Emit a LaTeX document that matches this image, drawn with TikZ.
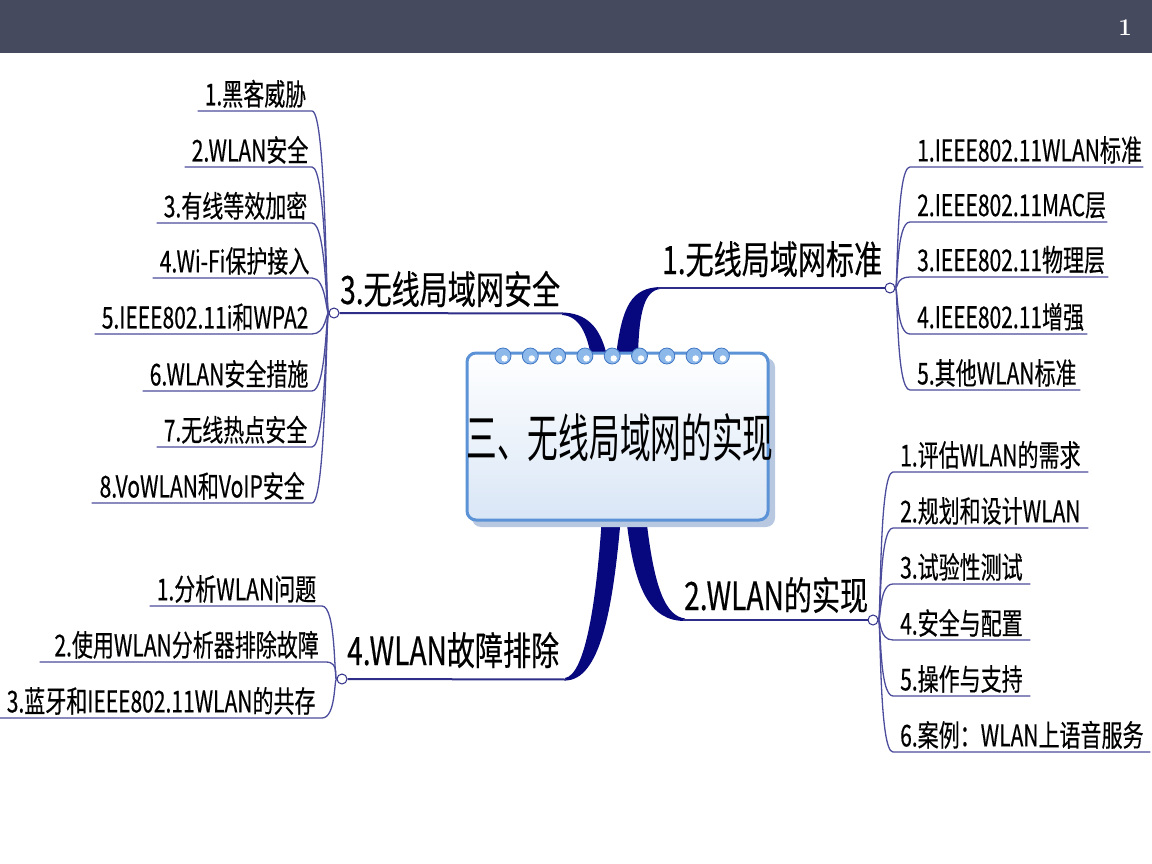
\documentclass[tikz,border=0pt]{standalone}
\usepackage{fontspec}
\newfontfamily\cjk[FakeStretch=0.70,FakeBold=0.4]{Noto Sans CJK SC}
\newfontfamily\cjktopic[FakeStretch=0.72,FakeBold=0.4]{Noto Sans CJK SC}
\newfontfamily\cjktitle[FakeStretch=0.59]{Noto Sans CJK SC}
\usetikzlibrary{positioning}
\definecolor{barcol}{HTML}{454A5E}
\definecolor{navy}{HTML}{08087E}
\definecolor{branchcol}{HTML}{2E2E88}
\definecolor{subcol}{HTML}{4C4C9C}
\definecolor{boxedge}{HTML}{5C92D6}
\definecolor{boxfill}{HTML}{D9E6F6}
\definecolor{shadowcol}{HTML}{B7C8E0}
\definecolor{ringcol}{HTML}{8CB8EA}
\definecolor{ringdark}{HTML}{3F76C4}
\exhyphenpenalty=10000
\hyphenpenalty=10000
\begin{document}
\begin{tikzpicture}[x=1pt,y=-1pt,
  topic/.style={font=\cjktopic\fontsize{39}{42}\selectfont, inner sep=0pt, anchor=base west},
  subR/.style={font=\cjk\fontsize{30}{32}\selectfont, anchor=south west, inner xsep=7pt, inner ysep=3pt, text width=#1, align=left},
  subL/.style={font=\cjk\fontsize{30}{32}\selectfont, anchor=south east, inner xsep=7pt, inner ysep=3pt, text width=#1, align=right},
  hub/.style={circle, draw=branchcol, fill=white, line width=1pt, minimum size=10pt, inner sep=0pt},
  topicline/.style={branchcol, line width=2pt},
  subline/.style={subcol, line width=1.3pt},
  taper/.style={fill=navy}]
\useasboundingbox (0,0) rectangle (1152,864);
\fill[barcol] (0,0) rectangle (1152,53);
\node[text=white, font=\bfseries\fontsize{24}{26}\selectfont] (pagenum) at (1125,28) {1};

\fill[taper] (616,356) .. controls (622,305) and (632,288) .. (660,287) -- (660,289) .. controls (645,291) and (639,310) .. (638,356) -- cycle;
\fill[taper] (562,312.5) .. controls (585,313) and (600,325) .. (607,356) -- (591,356) .. controls (587,335) and (580,316) .. (562,315) -- cycle;
\fill[taper] (626,516) .. controls (634,590) and (650,621) .. (685,621) -- (685,618.5) .. controls (666,616) and (654,590) .. (646,516) -- cycle;
\fill[taper] (621,516) .. controls (613,610) and (600,680.5) .. (565,680.5) -- (565,678) .. controls (584,675) and (596,610) .. (602,516) -- cycle;
\coordinate (c1) at (658,288);
\coordinate (c3) at (563,313.5);
\coordinate (c2) at (683,620);
\coordinate (c4) at (566,679.5);

\fill[shadowcol, rounded corners=9pt] (472,358) rectangle (775,527);
\draw[boxedge, line width=3pt, rounded corners=9pt, top color=white, bottom color=boxfill] (467,353) rectangle (768,520);
\foreach \k in {0,...,8} {
  \filldraw[fill=ringcol, draw=ringdark, line width=.8pt] ({503+27.3*\k},356) circle (8pt);
  \fill[white] ({504.5+27.3*\k},358.5) circle (3.2pt);
}
\node[font=\cjktitle\fontsize{52}{56}\selectfont] (title) at (620,438) {三、无线局域网的实现};

\node[hub] (h1) at (890,288) {};
\node[hub] (h2) at (873,620) {};
\node[hub] (h3) at (334,313) {};
\node[hub] (h4) at (342,679) {};

\node[topic] (t1) at (662,274) {1.无线局域网标准};
\node[topic] (t3) at (340,304) {3.无线局域网安全};
\node[topic] (t2) at (684,610) {2.WLAN的实现};
\node[topic] (t4) at (347,665) {4.WLAN故障排除};
\draw[topicline] (c1) -- (h1);
\draw[topicline] (h3) -- (c3);
\draw[topicline] (c2) -- (h2);
\draw[topicline] (h4) -- (c4);

\node[subR=219] (a1) at (910,167) {1.IEEE802.11WLAN标准};
\node[subR=183] (a2) at (910,222) {2.IEEE802.11MAC层};
\node[subR=184] (a3) at (910,277) {3.IEEE802.11物理层};
\node[subR=163] (a4) at (910,334) {4.IEEE802.11增强};
\node[subR=156] (a5) at (910,390) {5.其他WLAN标准};
\foreach \n in {1,...,5}
  \draw[subline] (h1) .. controls +(8,0) and +(-14,0) .. (a\n.south west) -- (a\n.south east);

\node[subR=181] (b1) at (893,472) {1.评估WLAN的需求};
\node[subR=181] (b2) at (893,528) {2.规划和设计WLAN};
\node[subR=123] (b3) at (893,584) {3.试验性测试};
\node[subR=123] (b4) at (893,640) {4.安全与配置};
\node[subR=123] (b5) at (893,696) {5.操作与支持};
\node[subR=243] (b6) at (893,752) {6.案例：WLAN上语音服务};
\foreach \n in {1,...,6}
  \draw[subline] (h2) .. controls +(8,0) and +(-14,0) .. (b\n.south west) -- (b\n.south east);

\node[subL=100] (d1) at (312,111) {1.黑客威胁};
\node[subL=113] (d2) at (312,167) {2.WLAN安全};
\node[subL=141] (d3) at (312,223) {3.有线等效加密};
\node[subL=145] (d4) at (312,278) {4.Wi-Fi保护接入};
\node[subL=203] (d5) at (312,334) {5.IEEE802.11i和WPA2};
\node[subL=155] (d6) at (312,391) {6.WLAN安全措施};
\node[subL=141] (d7) at (312,447) {7.无线热点安全};
\node[subL=206] (d8) at (312,503) {8.VoWLAN和VoIP安全};
\foreach \n in {1,...,8}
  \draw[subline] (h3) .. controls +(-8,0) and +(14,0) .. (d\n.south east) -- (d\n.south west);

\node[subL=158] (e1) at (322,606) {1.分析WLAN问题};
\node[subL=272] (e2) at (326,662) {2.使用WLAN分析器排除故障};
\node[subL=308] (e3) at (322,718) {3.蓝牙和IEEE802.11WLAN的共存};
\foreach \n in {1,...,3}
  \draw[subline] (h4) .. controls +(-8,0) and +(14,0) .. (e\n.south east) -- (e\n.south west);
\end{tikzpicture}
\end{document}
